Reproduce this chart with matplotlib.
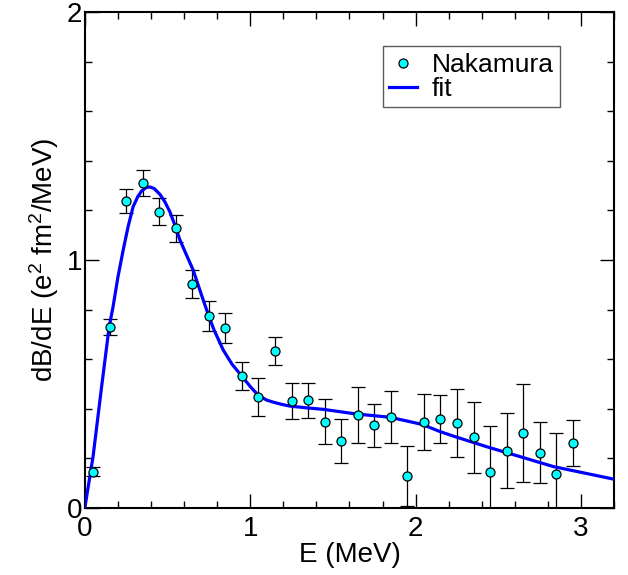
import matplotlib

matplotlib.use("Agg")
import matplotlib.pyplot as plt
from matplotlib.lines import Line2D
from matplotlib.ticker import MultipleLocator

plt.rcParams["font.family"] = ["Liberation Sans", "DejaVu Sans"]
plt.rcParams["mathtext.fontset"] = "custom"
plt.rcParams["mathtext.rm"] = "Liberation Sans"
plt.rcParams["mathtext.it"] = "Liberation Sans"

# Nakamura data: energy (MeV), dB/dE and its error
energy = [0.05, 0.15, 0.25, 0.35, 0.45, 0.55, 0.65, 0.75, 0.85, 0.95,
          1.05, 1.15, 1.25, 1.35, 1.45, 1.55, 1.65, 1.75, 1.85, 1.95,
          2.05, 2.15, 2.25, 2.35, 2.45, 2.55, 2.65, 2.75, 2.85, 2.95]
dbde = [0.146, 0.729, 1.238, 1.310, 1.195, 1.128, 0.902, 0.775, 0.725, 0.533,
        0.449, 0.634, 0.433, 0.435, 0.348, 0.269, 0.375, 0.333, 0.366, 0.130,
        0.346, 0.358, 0.342, 0.286, 0.146, 0.231, 0.301, 0.223, 0.137, 0.262]
dbde_err = [0.018, 0.033, 0.050, 0.052, 0.054, 0.055, 0.056, 0.061, 0.061, 0.057,
            0.077, 0.056, 0.073, 0.071, 0.090, 0.089, 0.112, 0.087, 0.105, 0.121,
            0.112, 0.097, 0.138, 0.143, 0.186, 0.152, 0.198, 0.122, 0.166, 0.091]

# fit curve
fit_e = [0.0, 0.05, 0.10, 0.147, 0.171, 0.20, 0.232, 0.262, 0.292, 0.32,
         0.343, 0.37, 0.393, 0.42, 0.454, 0.484, 0.514, 0.545, 0.575, 0.615,
         0.655, 0.70, 0.736, 0.78, 0.837, 0.89, 0.948, 1.0, 1.048, 1.10,
         1.139, 1.19, 1.24, 1.34, 1.44, 1.643, 1.845, 2.04, 2.148, 2.228,
         2.43, 2.632, 2.833, 3.2]
fit_v = [0.0, 0.207, 0.48, 0.729, 0.812, 0.93, 1.04, 1.135, 1.215, 1.255,
         1.278, 1.292, 1.295, 1.288, 1.265, 1.235, 1.195, 1.14, 1.081, 1.02,
         0.96, 0.87, 0.80, 0.72, 0.637, 0.58, 0.533, 0.49, 0.455, 0.435,
         0.427, 0.418, 0.411, 0.404, 0.398, 0.379, 0.366, 0.337, 0.308, 0.290,
         0.247, 0.207, 0.167, 0.116]

fig = plt.figure(figsize=(6.28, 5.75), dpi=100)
ax = fig.add_axes([0.135, 0.1165, 0.843, 0.8625])

ax.errorbar(energy, dbde, yerr=dbde_err, fmt="none", ecolor="black",
            elinewidth=0.9, capsize=5, capthick=0.9, zorder=2)
ax.plot(fit_e, fit_v, color="#0000ff", linewidth=2.3, zorder=3)
ax.plot(energy, dbde, "o", markersize=6.5, markerfacecolor="#00ffff",
        markeredgecolor="black", markeredgewidth=0.9, zorder=4)

ax.set_xlim(0, 3.2)
ax.set_ylim(0, 2)
ax.xaxis.set_major_locator(MultipleLocator(1))
ax.xaxis.set_minor_locator(MultipleLocator(0.2))
ax.yaxis.set_major_locator(MultipleLocator(1))
ax.yaxis.set_minor_locator(MultipleLocator(0.2))
ax.tick_params(which="both", direction="in", top=True, right=True,
               width=1.0, labelsize=20)
ax.tick_params(which="major", length=10)
ax.tick_params(which="minor", length=5)
ax.tick_params(axis="x", pad=6)
ax.tick_params(axis="y", pad=2)
for spine in ax.spines.values():
    spine.set_linewidth(1.5)

ax.set_xlabel("E (MeV)", fontsize=20, labelpad=0)
ax.set_ylabel("dB/dE (e$^2$ fm$^2$/MeV)", fontsize=20, labelpad=4)

handles = [
    Line2D([], [], linestyle="none", marker="o", markersize=6.5,
           markerfacecolor="#00ffff", markeredgecolor="black",
           markeredgewidth=0.9),
    Line2D([], [], color="#0000ff", linewidth=2.3),
]
leg = ax.legend(handles, ["Nakamura", "fit"], loc="upper left",
                bbox_to_anchor=(0.563, 0.931), borderaxespad=0, fontsize=19,
                frameon=True, fancybox=False, handlelength=1.05,
                handletextpad=0.55, borderpad=0.25, labelspacing=0.0)
leg.get_frame().set_edgecolor("#333333")
leg.get_frame().set_linewidth(1.0)

fig.savefig("out.png", dpi=100)
